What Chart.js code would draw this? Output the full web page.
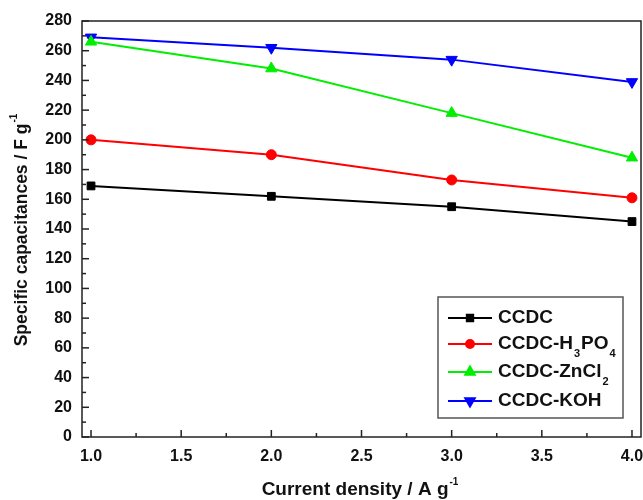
<!DOCTYPE html>
<html>
<head>
<meta charset="utf-8">
<script src="https://cdn.jsdelivr.net/npm/chart.js@4"></script>
<style>
  html, body { margin: 0; padding: 0; background: #fff; }
  #wrap { width: 643px; height: 500px; }
</style>
</head>
<body>
<div id="wrap"><canvas id="capChart" width="643" height="500"></canvas></div>
<script>
const densities = [1.0, 2.0, 3.0, 4.0];
const ccdc = [169, 162, 155, 145];
const ccdcH3PO4 = [200, 190, 173, 161];
const ccdcZnCl2 = [266, 248, 218, 188];
const ccdcKOH = [269, 262, 254, 239];
const xTicks = [1.0, 1.5, 2.0, 2.5, 3.0, 3.5, 4.0];
const yTicks = [0, 20, 40, 60, 80, 100, 120, 140, 160, 180, 200, 220, 240, 260, 280];
const legendLabels = [
  ["CCDC"],
  ["CCDC-H", { sub: "3" }, "PO", { sub: "4" }],
  ["CCDC-ZnCl", { sub: "2" }],
  ["CCDC-KOH"],
];

const FONT = '"Liberation Sans", Arial, sans-serif';

function toPoints(ys) {
  return densities.map((x, i) => ({ x: x, y: ys[i] }));
}

// frame, inward ticks, x labels, axis titles, legend
const decorations = {
  id: "decorations",
  afterDraw(chart) {
    const ctx = chart.ctx;
    const area = chart.chartArea;
    const xs = chart.scales.x;
    const ys = chart.scales.y;
    ctx.save();

    ctx.strokeStyle = "#222";
    ctx.lineWidth = 1.5;
    ctx.strokeRect(area.left, area.top, area.right - area.left, area.bottom - area.top);

    // y ticks (major every 20, minor every 10)
    for (let v = 0; v <= 280; v += 10) {
      const py = ys.getPixelForValue(v);
      const len = v % 20 === 0 ? 7 : 4;
      ctx.beginPath();
      ctx.moveTo(area.left, py);
      ctx.lineTo(area.left + len, py);
      ctx.stroke();
    }
    // x ticks (major every 0.5, minor every 0.25)
    for (let i = 0; i <= 12; i++) {
      const v = 1 + i * 0.25;
      const px = xs.getPixelForValue(v);
      const len = i % 2 === 0 ? 7 : 4;
      ctx.beginPath();
      ctx.moveTo(px, area.bottom);
      ctx.lineTo(px, area.bottom - len);
      ctx.stroke();
    }

    // x tick labels
    ctx.fillStyle = "#111";
    ctx.font = "bold 16px " + FONT;
    ctx.textAlign = "center";
    ctx.textBaseline = "middle";
    xTicks.forEach((v) => {
      ctx.fillText(v.toFixed(1), xs.getPixelForValue(v), 457);
    });

    // axis titles with superscript
    function titleWithSup(main, sup, cx, cy, size) {
      ctx.font = "bold " + size + "px " + FONT;
      const w1 = ctx.measureText(main).width;
      ctx.font = "bold 10px " + FONT;
      const w2 = ctx.measureText(sup).width;
      const start = cx - (w1 + w2 + 1) / 2;
      ctx.textAlign = "left";
      ctx.textBaseline = "middle";
      ctx.font = "bold " + size + "px " + FONT;
      ctx.fillText(main, start, cy);
      ctx.font = "bold 10px " + FONT;
      ctx.fillText(sup, start + w1 + 1, cy - 8);
    }
    titleWithSup("Current density / A g", "-1", 360, 490, 19);
    ctx.save();
    ctx.translate(22, 230);
    ctx.rotate(-Math.PI / 2);
    titleWithSup("Specific capacitances / F g", "-1", 0, 0, 17.5);
    ctx.restore();

    // legend box
    const bx = 438, by = 297, bw = 185, bh = 121;
    ctx.fillStyle = "#fff";
    ctx.fillRect(bx, by, bw, bh);
    ctx.strokeStyle = "#555";
    ctx.lineWidth = 1.5;
    ctx.strokeRect(bx, by, bw, bh);
    const rowY = [318, 344, 372, 401];
    chart.data.datasets.forEach((ds, i) => {
      const y = rowY[i];
      ctx.strokeStyle = ds.borderColor;
      ctx.lineWidth = 2;
      ctx.beginPath();
      ctx.moveTo(448, y);
      ctx.lineTo(492, y);
      ctx.stroke();
      ctx.fillStyle = ds.pointBackgroundColor;
      ctx.strokeStyle = ds.pointBorderColor;
      Chart.helpers.drawPoint(ctx, {
        pointStyle: ds.pointStyle,
        radius: ds.pointRadius - 1,
        rotation: ds.pointRotation || 0,
        borderWidth: 1,
      }, 470, y);
      let tx = 498;
      ctx.fillStyle = "#111";
      ctx.textAlign = "left";
      ctx.textBaseline = "middle";
      legendLabels[i].forEach((part) => {
        if (typeof part === "string") {
          ctx.font = "bold 19px " + FONT;
          ctx.fillText(part, tx, y);
          tx += ctx.measureText(part).width;
        } else {
          ctx.font = "bold 11px " + FONT;
          ctx.fillText(part.sub, tx + 1, y + 10);
          tx += ctx.measureText(part.sub).width + 2;
        }
      });
    });

    ctx.restore();
  },
};

const ctx = document.getElementById("capChart").getContext("2d");
const capChart = new Chart(ctx, {
  type: "line",
  data: {
    datasets: [
      {
        label: "CCDC",
        data: toPoints(ccdc),
        borderColor: "#000000",
        pointBackgroundColor: "#000000",
        pointBorderColor: "#000000",
        pointStyle: "rect",
        pointRadius: 5.5,
      },
      {
        label: "CCDC-H3PO4",
        data: toPoints(ccdcH3PO4),
        borderColor: "#ff0000",
        pointBackgroundColor: "#ff0000",
        pointBorderColor: "#ff0000",
        pointStyle: "circle",
        pointRadius: 5,
      },
      {
        label: "CCDC-ZnCl2",
        data: toPoints(ccdcZnCl2),
        borderColor: "#00ee00",
        pointBackgroundColor: "#00ee00",
        pointBorderColor: "#00ee00",
        pointStyle: "triangle",
        pointRadius: 6.5,
      },
      {
        label: "CCDC-KOH",
        data: toPoints(ccdcKOH),
        borderColor: "#0000ff",
        pointBackgroundColor: "#0000ff",
        pointBorderColor: "#0000ff",
        pointStyle: "triangle",
        pointRotation: 180,
        pointRadius: 6.5,
      },
    ],
  },
  options: {
    responsive: false,
    animation: false,
    events: [],
    layout: {
      autoPadding: false,
      padding: { left: 0, top: 21, right: 2, bottom: 0 },
    },
    elements: {
      line: { borderWidth: 2, tension: 0 },
      point: { borderWidth: 1 },
    },
    plugins: {
      legend: { display: false },
      tooltip: { enabled: false },
    },
    scales: {
      x: {
        type: "linear",
        min: 0.95,
        max: 4.05,
        afterBuildTicks: (scale) => {
          scale.ticks = xTicks.map((v) => ({ value: v }));
        },
        afterFit: (scale) => {
          scale.height = 63;
        },
        grid: { display: false, drawTicks: false },
        border: { display: false },
        ticks: { display: false },
      },
      y: {
        min: 0,
        max: 280,
        afterBuildTicks: (scale) => {
          scale.ticks = yTicks.map((v) => ({ value: v }));
        },
        afterFit: (scale) => {
          scale.width = 82;
        },
        grid: { display: false, drawTicks: false },
        border: { display: false },
        ticks: {
          padding: 10,
          color: "#111",
          font: { family: FONT, size: 16, weight: "bold" },
        },
      },
    },
  },
  plugins: [decorations],
});
</script>
</body>
</html>
